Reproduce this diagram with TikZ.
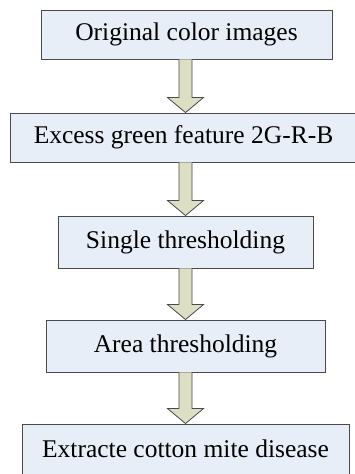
\documentclass[tikz,border=0pt]{standalone}
\usepackage{fontspec}
\setmainfont{Liberation Serif}
\usetikzlibrary{calc}
\definecolor{boxfill}{HTML}{E8EEF8}
\definecolor{boxline}{HTML}{4A4A4A}
\definecolor{arrowfill}{HTML}{DCDFC4}
\tikzset{
  x=1pt, y=-1pt,
  stepbox/.style={draw=boxline, line width=0.9pt, fill=boxfill, inner sep=0pt,
    minimum height=49pt, font=\fontsize{25.5}{28}\selectfont},
  fatarrow/.style={draw=boxline, line width=0.8pt, fill=arrowfill, line join=miter}
}
% vertical block arrow on the common axis, from the bottom of one box to the top of the next
\newcommand\blockarrow[2]{%
  \coordinate (s) at (#1.south -| axis);
  \coordinate (e) at (#2.north -| axis);
  \draw[fatarrow] ($(s)+(-6.5,0)$) -- ($(e)+(-6.5,-15)$)
    -- ($(e)+(-18,-15)$) -- (e) -- ($(e)+(18,-15)$)
    -- ($(e)+(6.5,-15)$) -- ($(s)+(6.5,0)$);}
\begin{document}
\begin{tikzpicture}
\useasboundingbox (0,0) rectangle (355,474);
\clip (0,0) rectangle (355,474);
\coordinate (axis) at (185.5,0);
\node[stepbox, minimum width=291pt] (b1) at (186.5,34.5) {Original color images};
\node[stepbox, minimum width=347pt] (b2) at (183.5,137.5) {Excess green feature 2G-R-B};
\node[stepbox, minimum width=255pt, minimum height=52pt] (b3) at (185.5,242) {Single thresholding};
\node[stepbox, minimum width=279pt, minimum height=52pt] (b4) at (185.5,346) {Area thresholding};
\node[stepbox, minimum width=327pt, minimum height=56pt] (b5) at (185.5,452) {};
\node[font=\fontsize{25.5}{28}\selectfont, inner sep=0pt] (t5) at (185.5,449) {Extracte cotton mite disease};
\blockarrow{b1}{b2}
\blockarrow{b2}{b3}
\blockarrow{b3}{b4}
\blockarrow{b4}{b5}
\end{tikzpicture}
\end{document}
